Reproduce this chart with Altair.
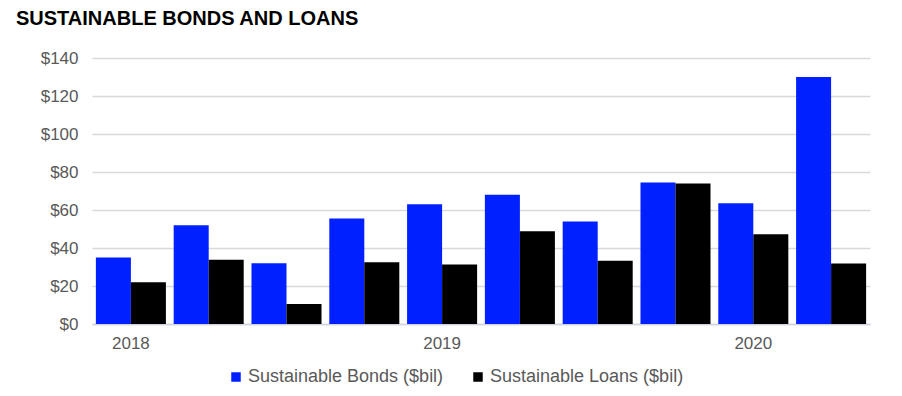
import altair as alt
import pandas as pd

quarters = ["2018 Q1", "2018 Q2", "2018 Q3", "2018 Q4", "2019 Q1", "2019 Q2",
            "2019 Q3", "2019 Q4", "2020 Q1", "2020 Q2"]
bonds = [35, 52, 32, 55.5, 63, 68, 54, 74.5, 63.5, 130]
loans = [22, 33.8, 10.5, 32.5, 31.3, 48.8, 33.3, 74, 47.2, 31.8]
series = ["Sustainable Bonds ($bil)", "Sustainable Loans ($bil)"]
colors = ["#0020ff", "#000000"]

rows = []
for q, b, l in zip(quarters, bonds, loans):
    rows.append({"quarter": q, "series": series[0], "value": b})
    rows.append({"quarter": q, "series": series[1], "value": l})
df = pd.DataFrame(rows)

FONT = "Liberation Sans"

chart = alt.Chart(df).mark_bar().encode(
    x=alt.X("quarter:N", sort=quarters, title=None,
            scale=alt.Scale(paddingInner=0.1, paddingOuter=0.05),
            axis=alt.Axis(labelExpr="indexof(datum.value,'Q1')>=0 ? slice(datum.value,0,4) : ''",
                          labelAngle=0, ticks=False, labelPadding=11, labelFontSize=17,
                          labelColor="#595959", labelFont=FONT,
                          domainColor="#d0d4de", domainWidth=1.5, grid=False)),
    xOffset=alt.XOffset("series:N", sort=series, scale=alt.Scale(paddingInner=0, paddingOuter=0)),
    y=alt.Y("value:Q", title=None,
            scale=alt.Scale(domain=[0, 140], nice=False),
            axis=alt.Axis(values=[0, 20, 40, 60, 80, 100, 120, 140],
                          labelExpr="'$' + datum.value", ticks=False, domain=False,
                          labelPadding=14, labelFontSize=17, labelColor="#595959",
                          labelFont=FONT, gridColor="#d9d9d9", gridWidth=1.5)),
    color=alt.Color("series:N", sort=series,
                    scale=alt.Scale(domain=series, range=colors),
                    legend=alt.Legend(title=None, orient="none", direction="horizontal",
                                      legendX=135, legendY=310, symbolType="square",
                                      symbolSize=90, symbolStrokeWidth=0, labelLimit=400,
                                      labelFontSize=18, labelColor="#595959",
                                      labelFont=FONT, columnPadding=25, labelOffset=3)),
).properties(
    width=778, height=266,
    background="white",
    title=alt.TitleParams("SUSTAINABLE BONDS AND LOANS", anchor="start", frame="group",
                          dx=-76, fontSize=20, font=FONT, fontWeight="bold",
                          color="#000000", offset=20),
    autosize=alt.AutoSizeParams(type="none"),
    padding={"left": 84, "top": 50, "right": 20, "bottom": 70},
).configure_view(stroke=None)

chart.save("out.html", embed_options={"renderer": "svg", "actions": False})
